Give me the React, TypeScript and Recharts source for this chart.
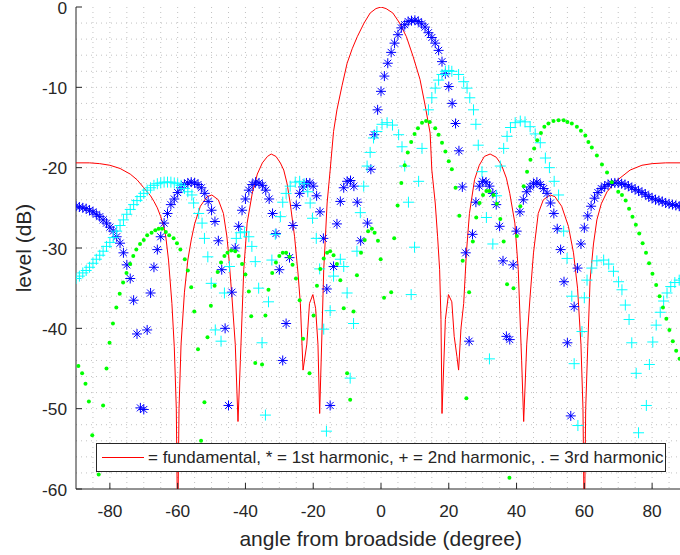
import React from "react";
import { ScatterChart, Scatter, XAxis, YAxis, CartesianGrid } from "recharts";

// fundamental pattern (red line), [angle deg, level dB]
const fundamental: [number, number][] = [
  [-90, -19.4], [-86, -19.4], [-83, -19.5], [-80, -19.7], [-77, -20.1], [-74, -20.8],
  [-72, -21.5], [-70, -22.5], [-68, -23.5], [-67, -24.2], [-66, -25.0], [-65, -26.1],
  [-64, -27.5], [-63.5, -28.6], [-62.7, -31.5], [-61.7, -36.9], [-61, -42.3], [-60.4, -50],
  [-60, -66], [-59.6, -50], [-59, -42], [-58, -35.5], [-57, -31.5], [-56, -29], [-55, -27],
  [-53.3, -24.8], [-51.3, -23.6], [-49.9, -23.4], [-48, -24], [-46.5, -25.7], [-45.5, -28.5],
  [-45, -30.6], [-44, -36], [-43, -42], [-42.2, -51.6], [-41.5, -44], [-40.5, -32.7],
  [-39.5, -26.9], [-38, -23.2], [-36.5, -20.8], [-35, -19.4], [-33.5, -18.6], [-32.4, -18.3],
  [-31, -18.6], [-29.7, -19.4], [-28.7, -20.3], [-27.7, -22], [-26.8, -24.4], [-25.5, -28.6],
  [-24.5, -33.1], [-23.8, -36.9], [-23, -45.2], [-21.9, -42], [-21.1, -36.9], [-20.1, -35.8],
  [-19.3, -37.5], [-18.6, -42], [-18.1, -50.6], [-17.4, -40.2], [-16.9, -32.7], [-16.4, -28.6],
  [-15.9, -24.4], [-15, -20.3], [-14, -15.5], [-13, -12.8], [-11.5, -9.8], [-10, -7],
  [-8.5, -5.2], [-7, -3.7], [-5, -2.0], [-3.2, -0.75], [-1.5, -0.2], [0, 0], [1.5, -0.2],
  [3.5, -0.75], [5.5, -2.0], [7.5, -3.7], [9.5, -6.2], [11.5, -9.0], [13, -12.2], [14.5, -15.7],
  [15, -20.3], [16, -24.4], [16.7, -28.6], [17.3, -32.7], [17.7, -38.9], [18, -50.6], [19, -38.9],
  [19.9, -35.8], [20.9, -36.7], [21.6, -41], [22.4, -43.5], [22.9, -45.2], [23.6, -40],
  [24.4, -36.9], [25.2, -30.6], [26.1, -25.7], [27.6, -21.5], [29, -19.7], [30.5, -18.6],
  [32.2, -18.3], [34, -18.7], [35.5, -19.6], [37, -21.3], [38, -23.2], [39.5, -26.9],
  [40.5, -32.7], [41.5, -44], [42.1, -51.6], [43, -42], [44, -36], [45, -30.6], [46.4, -25.7],
  [47.9, -24], [49.9, -23.4], [51.3, -23.6], [53.3, -24.8], [55.3, -27.3], [56.8, -30.6],
  [58, -35], [59, -42], [59.6, -50], [60, -66], [60.4, -50], [61, -42.3], [61.7, -34],
  [62.7, -29.5], [63.7, -26.5], [65, -24.5], [66.7, -23.0], [69.6, -21.6], [73.5, -20.3],
  [77, -19.7], [80, -19.5], [84, -19.4], [90, -19.4],
];

// 1st harmonic (blue *)
const harmonic1: [number, number][] = [
  [-90, -24.8], [-89, -24.9], [-88, -25.0], [-87, -25.1], [-86, -25.3], [-85, -25.5],
  [-84, -25.8], [-83, -26.1], [-82, -26.5], [-81, -26.9], [-80, -27.4], [-79, -27.9],
  [-78, -28.6], [-77, -29.4], [-76, -30.6], [-75, -32.1], [-74, -33.8], [-73, -36.5],
  [-72, -40.7], [-71, -49.9], [-70, -50.1], [-69, -40.2], [-68, -35.6], [-67, -32.4],
  [-66, -30.2], [-65, -28.6], [-64, -26.9], [-63, -25.7], [-62, -24.6], [-61, -23.9],
  [-60, -23.1], [-59, -22.5], [-58, -22.1], [-57, -21.9], [-56, -21.8], [-55, -21.9],
  [-54, -22.1], [-53, -22.5], [-52, -23.2], [-51, -24.2], [-50, -25.3], [-49, -26.7],
  [-48, -29.1], [-47, -32.7], [-46, -40], [-45, -49.6], [-44, -35.5], [-43, -30],
  [-42, -27.3], [-41, -25.3], [-40, -23.9], [-39, -22.8], [-38, -22.1], [-37, -21.8],
  [-36, -21.9], [-35, -22.2], [-34, -22.8], [-33, -23.9], [-32, -25.7], [-31, -28.2],
  [-30, -32.7], [-29, -44], [-28, -39.4], [-27, -31.2], [-26, -27.2], [-25, -24.7],
  [-24, -23.2], [-23, -22.4], [-22, -21.9], [-21, -21.9], [-20, -22.3], [-19, -23.5],
  [-18, -25.5], [-17, -28.8], [-16, -35.1], [-15, -49.6], [-14, -32.3], [-13, -27],
  [-12, -24.2], [-11, -22.5], [-10, -21.7], [-9, -21.6], [-8, -22.3], [-7, -24.3],
  [-6, -29.1], [-4, -26.9], [-3, -20.2], [-2, -15.9], [-1, -12.8], [0, -10.5], [1, -8.6],
  [2, -7.0], [3, -5.65], [4, -4.5], [5, -3.45], [6, -2.6], [7, -2.2], [8, -1.8], [9, -1.7],
  [10, -1.65], [11, -1.8], [12, -2.1], [13, -2.5], [14, -3.2], [15, -3.8], [16, -4.5],
  [17, -5.4], [18, -6.8], [19, -8.3], [20, -9.9], [21, -12], [22, -14.5], [23, -17.9],
  [24, -22.4], [25, -30.6], [26, -41.6], [27, -28.3], [28, -24.3], [29, -22.3], [30, -21.7],
  [31, -21.8], [32, -22.3], [33, -23.2], [34, -24.6], [35, -27.3], [36, -31.6], [37, -41.0],
  [38, -41.4], [39, -32.1], [40, -27.9], [41, -25.5], [42, -24], [43, -23], [44, -22.4],
  [45, -22], [46, -21.8], [47, -22.1], [48, -22.6], [49, -23.2], [50, -24.4], [51, -25.7],
  [52, -27.6], [53, -30.2], [54, -34.2], [55, -41.8], [56, -50.9], [57, -37.3], [58, -32.5],
  [59, -29.5], [60, -27.5], [61, -26], [62, -24.8], [63, -23.8], [64, -23.1], [65, -22.6],
  [66, -22.3], [67, -22.1], [68, -21.95], [69, -21.9], [70, -21.9], [71, -22.0], [72, -22.1],
  [73, -22.3], [74, -22.5], [75, -22.7], [76, -22.9], [77, -23.1], [78, -23.3], [79, -23.6],
  [80, -23.8], [81, -24.0], [82, -24.1], [83, -24.2], [84, -24.4], [85, -24.5], [86, -24.6],
  [87, -24.7], [88, -24.8], [89, -24.9], [90, -25.0],
];

// 2nd harmonic (cyan +)
const harmonic2: [number, number][] = [
  [-90, -33.8], [-89, -33.5], [-88, -33.1], [-87, -32.8], [-86, -32.4], [-85, -31.9],
  [-84, -31.4], [-83, -30.9], [-82, -30.4], [-81, -29.8], [-80, -29.3], [-79, -28.7],
  [-78, -27.9], [-77, -27.2], [-76, -26.5], [-75, -25.8], [-74, -25.2], [-73, -24.6],
  [-72, -24.1], [-71, -23.6], [-70, -23.2], [-69, -22.8], [-68, -22.5], [-67, -22.2],
  [-66, -22.0], [-65, -21.9], [-64, -21.8], [-63, -21.8], [-62, -21.8], [-61, -21.9],
  [-60, -22.0], [-59, -22.2], [-58, -22.6], [-57, -23.0], [-55.8, -23.4], [-55.3, -24.4],
  [-53.8, -25.7], [-52.8, -26.9], [-52.1, -28.8], [-51.1, -31.1], [-50.1, -34.4],
  [-48.9, -40.2], [-47.2, -41.6], [-46.2, -35.6], [-44.7, -32.3], [-42.7, -28.8],
  [-41.5, -28.1], [-40.3, -28.0], [-39, -28.6], [-38.1, -29.8], [-37.1, -31.7], [-36.1, -35],
  [-35.1, -41.8], [-34.1, -50.8], [-33.2, -36.7], [-32.2, -31.5], [-31.2, -28.3],
  [-29.7, -26.1], [-29, -24.3], [-28, -23.2], [-26.8, -22.3], [-25.3, -21.8], [-24, -21.7],
  [-22.7, -22], [-21.6, -23], [-20.9, -24.4], [-20.2, -26.3], [-19.1, -28.8], [-18.1, -32.6],
  [-16.9, -40.1], [-16.1, -52.8], [-15, -37.8], [-14, -33.5], [-12, -31.4], [-11, -32.3],
  [-10, -35.6], [-9.1, -46.2], [-8.1, -39.4], [-7.1, -30.4], [-6.1, -25.6], [-5.1, -22.3],
  [-4.1, -19.8], [-3.2, -18.1], [-2.2, -16.3], [-1.2, -15.5], [0.3, -14.6], [1.8, -14.4],
  [3.4, -14.7], [5.2, -15.9], [6.2, -17.4], [7, -19.8], [8.1, -24.3], [8.9, -35.8],
  [9.9, -29.9], [11.1, -21.7], [12.1, -17.6], [14, -12.8], [15, -11.3], [16, -10.1],
  [17, -9.1], [18, -8.4], [19, -8.0], [20, -7.9], [20.9, -8.0], [22.9, -8.4], [24.4, -9.3],
  [25.4, -10.1], [26.2, -11.3], [27.3, -12.8], [28, -14.6], [28.7, -17.2], [29.8, -20.5],
  [31.1, -26.2], [32, -43.8], [33, -29.5], [34.1, -23.5], [35.2, -19.8], [36.2, -17.6],
  [37.2, -16.1], [38.2, -15], [39.6, -14.4], [41.1, -14.2], [42.5, -14.3], [44, -14.9],
  [45.5, -15.8], [47, -16.9], [48.5, -18.8], [49.7, -20], [51.1, -21.7], [52.4, -23.4],
  [53.9, -27.9], [54.9, -31.3], [56.3, -36], [57, -44.4], [58.1, -52.1], [59.3, -40.4],
  [60, -36.2], [60.8, -34], [62.2, -32.5], [63.7, -31.6], [65.7, -31.5], [67.2, -32],
  [68.6, -32.9], [70.1, -34.2], [71.1, -35.2], [72.1, -37.1], [73.2, -38.9], [74, -41.8],
  [75.3, -45.6], [76, -53], [78.3, -49.6], [79.2, -44.5], [80.2, -41.7], [81.2, -39.6],
  [82.4, -38], [83.4, -36.6], [84.4, -35.6], [85.5, -34.8], [86.7, -34.3], [88, -34.0],
  [89.3, -33.8],
];

// 3rd harmonic (green .)
const harmonic3: [number, number][] = [
  [-89.3, -44.7], [-88.2, -45.6], [-87.2, -46.9], [-86.2, -49.1], [-85.2, -53.3],
  [-83.3, -58.2], [-82, -49.6], [-81, -45], [-80.1, -41.8], [-79.1, -39.4], [-78.1, -37.4],
  [-77.1, -35.7], [-76.1, -34.3], [-75.1, -33.1], [-74, -32], [-73.1, -31], [-72.2, -30.2],
  [-71.1, -29.5], [-70, -29], [-69, -28.4], [-67.7, -28.1], [-66.6, -27.8], [-65.6, -27.6],
  [-64.6, -27.6], [-63.5, -28], [-62.5, -28.4], [-61.2, -28.8], [-60.2, -29.4], [-59.2, -30.2],
  [-57.9, -31.4], [-57, -32.8], [-56, -34.9], [-55.1, -37.9], [-54, -42.6], [-53.1, -54],
  [-52.1, -49.2], [-51.2, -41.1], [-50.2, -37.2], [-49.1, -34.7], [-48.2, -33], [-47.2, -31.8],
  [-46.2, -31], [-45.3, -30.6], [-44.2, -30.3], [-43, -30.4], [-42, -31], [-41, -32],
  [-40, -33.3], [-39, -35.4], [-38.3, -38.5], [-37.1, -44.3], [-35.1, -44.5], [-34.1, -38.4],
  [-33.2, -35.2], [-32.1, -33.1], [-31, -31.8], [-30, -31], [-29, -30.6], [-28, -30.6],
  [-27, -31.1], [-26.1, -32.1], [-25.1, -33.8], [-24, -36.5], [-23, -41.3], [-21.1, -45.6],
  [-19.9, -38.4], [-18.9, -34.7], [-17.9, -32.6], [-16.9, -31.3], [-15.9, -30.6], [-15, -30.4],
  [-14, -30.9], [-13, -32], [-12, -34], [-11, -37.5], [-10, -45.6], [-9.1, -48.9], [-8.1, -37.9],
  [-7.1, -33.4], [-5.9, -30.6], [-4.8, -29], [-3.8, -27.9], [-2.7, -27.6], [-1.9, -28.1],
  [-0.9, -29.1], [-0.1, -31.4], [0.9, -36.2], [3, -35.5], [3.9, -28.8], [4.9, -24.7], [6, -21.9],
  [7, -19.7], [7.9, -18.1], [8.9, -16.8], [9.9, -15.8], [10.9, -15.1], [12.1, -14.4],
  [13.3, -14.2], [14.4, -14.3], [16, -15.1], [17, -15.9], [18, -16.9], [19, -18], [20, -19.2],
  [20.9, -20.2], [22, -22.5], [23.1, -26], [24.1, -31.6], [25.2, -48.7], [26, -35.5],
  [27.1, -29.2], [28.1, -26.2], [29.1, -24.4], [30.1, -23.4], [31.1, -22.9], [32, -22.9],
  [33.2, -23.4], [34.2, -24.5], [35.2, -26.4], [36.2, -29.2], [37.2, -34.5], [37.9, -58.6],
  [39.1, -35], [40.1, -28.5], [41.1, -24.8], [42.1, -22.3], [43.1, -20.5], [44.1, -19],
  [45.2, -17.6], [46.1, -16.6], [47.2, -15.7], [48.2, -14.9], [49.4, -14.5], [50.9, -14.2],
  [52.4, -14.1], [53.9, -14.1], [55, -14.3], [56.3, -14.5], [57.8, -14.9], [59, -15.4],
  [60.3, -16], [61.2, -16.8], [62.2, -17.5], [63.7, -18.5], [65.2, -19.6], [66.7, -20.6],
  [68.1, -21.8], [70, -23], [71.1, -23.4], [72.2, -24.1], [73.2, -25.1], [74.2, -26.1],
  [75.2, -27.1], [76.2, -28.2], [77.2, -29.4], [78.2, -30.6], [79.1, -31.9], [80.1, -33.2],
  [81.2, -34.6], [82.2, -36], [83.2, -37.4], [84.2, -38.8], [85.1, -40.2], [86.1, -41.6],
  [87.1, -42.8], [88.1, -43.8], [89.1, -44.8],
];

const xTicks = [-80, -60, -40, -20, 0, 20, 40, 60, 80];
const yTicks = [-60, -50, -40, -30, -20, -10, 0];

const AXIS = "#262626";
const FONT = "'Liberation Sans', Arial, Helvetica, sans-serif";

// minor grid every 5 deg / 2 dB
const gridX: number[] = [];
for (let v = -85; v <= 85; v += 5) gridX.push(v);
const gridY: number[] = [];
for (let v = -58; v <= -2; v += 2) gridY.push(v);

const toPts = (arr: [number, number][]) => arr.map(([x, y]) => ({ x, y }));

const Star = (props: any) => {
  const { cx, cy } = props;
  const r = 5;
  const d = 3.5;
  return (
    <g stroke="#0000ff" strokeWidth={1}>
      <line x1={cx - r} y1={cy} x2={cx + r} y2={cy} />
      <line x1={cx} y1={cy - r} x2={cx} y2={cy + r} />
      <line x1={cx - d} y1={cy - d} x2={cx + d} y2={cy + d} />
      <line x1={cx - d} y1={cy + d} x2={cx + d} y2={cy - d} />
    </g>
  );
};

const Plus = (props: any) => {
  const { cx, cy } = props;
  const r = 5.5;
  return (
    <g stroke="#00ffff" strokeWidth={1}>
      <line x1={cx - r} y1={cy} x2={cx + r} y2={cy} />
      <line x1={cx} y1={cy - r} x2={cx} y2={cy + r} />
    </g>
  );
};

const Dot = (props: any) => <circle cx={props.cx} cy={props.cy} r={2} fill="#00ff00" />;

const NoShape = () => <g />;

const BottomTick = ({ x, y, payload }: any) => (
  <g>
    <line x1={x} y1={y} x2={x} y2={y - 6} stroke={AXIS} />
    <text x={x} y={y + 27.5} textAnchor="middle" fill={AXIS} fontSize={17.3} fontFamily={FONT}>
      {payload.value}
    </text>
  </g>
);

const TopTick = ({ x, y }: any) => <line x1={x} y1={y} x2={x} y2={y + 6} stroke={AXIS} />;

const LeftTick = ({ x, y, payload }: any) => (
  <g>
    <line x1={x} y1={y} x2={x + 6} y2={y} stroke={AXIS} />
    <text x={x - 9} y={y + 6.8} textAnchor="end" fill={AXIS} fontSize={17.3} fontFamily={FONT}>
      {payload.value}
    </text>
  </g>
);

const XTitle = () => (
  <text x={380.7} y={546} textAnchor="middle" fill={AXIS} fontSize={21} fontFamily={FONT}>
    angle from broadside (degree)
  </text>
);

const YTitle = () => (
  <text
    x={31}
    y={248}
    transform="rotate(-90 31 248)"
    textAnchor="middle"
    fill={AXIS}
    fontSize={21}
    fontFamily={FONT}
  >
    level (dB)
  </text>
);

export default function App() {
  return (
    <div
      style={{
        position: "absolute",
        left: 0,
        top: 0,
        width: 680,
        height: 555,
        overflow: "hidden",
        background: "#fff",
        fontFamily: FONT,
      }}
    >
      <ScatterChart width={700} height={555} margin={{ top: 7, right: 14, bottom: 0, left: 0 }}>
        <CartesianGrid
          horizontalValues={gridY}
          verticalValues={gridX}
          stroke="#c2c2c2"
          strokeDasharray="1 4"
        />
        <XAxis
          type="number"
          dataKey="x"
          domain={[-90, 90]}
          ticks={xTicks}
          interval={0}
          allowDataOverflow
          height={66}
          tickSize={0}
          tickMargin={0}
          tick={<BottomTick />}
          axisLine={{ stroke: AXIS }}
          label={<XTitle />}
        />
        <XAxis
          xAxisId="top"
          orientation="top"
          type="number"
          domain={[-90, 90]}
          ticks={xTicks}
          interval={0}
          allowDataOverflow
          height={0}
          tickSize={0}
          tickMargin={0}
          tick={<TopTick />}
          axisLine={{ stroke: AXIS }}
        />
        <YAxis
          type="number"
          dataKey="y"
          domain={[-60, 0]}
          ticks={yTicks}
          interval={0}
          allowDataOverflow
          width={76}
          tickSize={0}
          tickMargin={0}
          tick={<LeftTick />}
          axisLine={{ stroke: AXIS }}
          label={<YTitle />}
        />
        <Scatter
          data={toPts(fundamental)}
          fill="#ff0000"
          line={{ stroke: "#ff0000", strokeWidth: 1 }}
          lineType="joint"
          shape={<NoShape />}
          isAnimationActive={false}
        />
        <Scatter data={toPts(harmonic1)} fill="#0000ff" shape={<Star />} isAnimationActive={false} />
        <Scatter data={toPts(harmonic2)} fill="#00ffff" shape={<Plus />} isAnimationActive={false} />
        <Scatter data={toPts(harmonic3)} fill="#00ff00" shape={<Dot />} isAnimationActive={false} />
      </ScatterChart>

      {/* legend box */}
      <div
        style={{
          position: "absolute",
          left: 96,
          top: 443,
          width: 570,
          height: 29,
          boxSizing: "border-box",
          border: `1px solid ${AXIS}`,
          background: "#fff",
        }}
      >
        <div
          style={{ position: "absolute", left: 5, top: 13, width: 42, height: 1, background: "#ff0000" }}
        />
        <div
          style={{
            position: "absolute",
            left: 51,
            top: 0,
            lineHeight: "27px",
            fontSize: 17,
            color: AXIS,
            whiteSpace: "nowrap",
          }}
        >
          = fundamental, * = 1st harmonic, + = 2nd harmonic, . = 3rd harmonic
        </div>
      </div>
    </div>
  );
}
